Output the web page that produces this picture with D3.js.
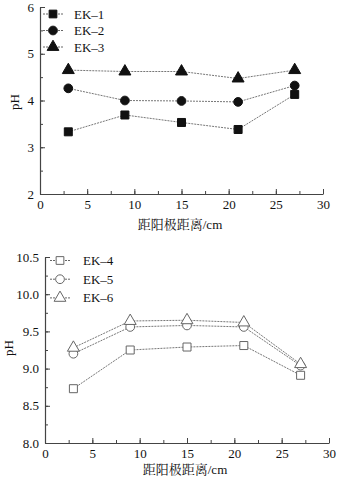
<!DOCTYPE html>
<html><head><meta charset="utf-8">
<script src="https://cdn.jsdelivr.net/npm/d3@7"></script>
<style>
html,body{margin:0;padding:0;background:#fff;}
svg text{font-family:"Liberation Serif","Noto Serif CJK SC","Noto Sans CJK SC",serif !important;}
</style></head>
<body>
<svg id="c" width="338" height="482"></svg>
<script>
const distances = [3, 9, 15, 21, 27];
const seriesTopNames = ["EK\u20131", "EK\u20132", "EK\u20133"];
const ek1 = [3.33, 3.69, 3.53, 3.38, 4.13];
const ek2 = [4.26, 4.00, 3.99, 3.97, 4.32];
const ek3 = [4.65, 4.62, 4.62, 4.47, 4.65];
const seriesBottomNames = ["EK\u20134", "EK\u20135", "EK\u20136"];
const ek4 = [8.73, 9.25, 9.29, 9.31, 8.91];
const ek5 = [9.20, 9.56, 9.58, 9.56, 9.04];
const ek6 = [9.28, 9.64, 9.65, 9.62, 9.06];
const xTicks = [0, 5, 10, 15, 20, 25, 30];
const yTicksTop = [2, 3, 4, 5, 6];
const yTicksBottom = [8.0, 8.5, 9.0, 9.5, 10.0, 10.5];
const xTitle = "距阳极距离/cm";
const yTitle = "pH";

const svg = d3.select("#c");
const sym = [d3.symbolSquare, d3.symbolCircle, d3.symbolTriangle];

function panel(cfg){
  const g = svg.append("g");
  const x = d3.scaleLinear().domain([0,30]).range(cfg.xr);
  const y = d3.scaleLinear().domain(cfg.yd).range(cfg.yr);
  const axisColor = "#444";
  const xMinor = d3.range(0, 30.01, 2.5);
  const yMinor = d3.range(cfg.yd[0], cfg.yd[1]+1e-6, cfg.yMinorStep);
  const xa = g.append("g").attr("transform",`translate(0,${cfg.yr[0]})`)
    .call(d3.axisBottom(x).tickValues(xMinor).tickSize(-3).tickFormat(""));
  xa.select(".domain").remove();
  const ya = g.append("g").attr("transform",`translate(${cfg.xr[0]},0)`)
    .call(d3.axisLeft(y).tickValues(yMinor).tickSize(-3).tickFormat(""));
  ya.select(".domain").remove();
  g.append("g").attr("transform",`translate(0,${cfg.yr[0]})`)
    .call(d3.axisBottom(x).tickValues(xTicks).tickSizeInner(-5).tickSizeOuter(0).tickPadding(6).tickFormat(d3.format("d")));
  g.append("g").attr("transform",`translate(${cfg.xr[0]},0)`)
    .call(d3.axisLeft(y).tickValues(cfg.yTicks).tickSizeInner(-5).tickSizeOuter(0).tickPadding(6).tickFormat(cfg.yFmt));
  g.selectAll(".tick line").attr("stroke",axisColor);
  g.selectAll(".domain").attr("stroke",axisColor).attr("stroke-width",1.2);
  g.selectAll(".tick text").attr("font-size",13).attr("fill","#111");
  g.append("text").attr("x",cfg.xtPos[0]).attr("y",cfg.xtPos[1]).attr("text-anchor","middle")
    .attr("font-size",13).attr("fill","#111").text(xTitle);
  g.append("text").attr("transform",`translate(${cfg.ytPos[0]},${cfg.ytPos[1]}) rotate(-90)`)
    .attr("text-anchor","middle").attr("font-size",13).attr("fill","#111").text(yTitle);
  const line = d3.line().x((d,i)=>x(distances[i])).y(d=>y(d));
  cfg.series.forEach((s,k)=>{
    g.append("path").datum(s).attr("d",line).attr("fill","none")
      .attr("stroke","#777").attr("stroke-width",1).attr("stroke-dasharray","2,1");
  });
  cfg.series.forEach((s,k)=>{
    const size = k===0 ? 64 : (k===1 ? 60 : 62);
    g.selectAll(null).data(s).enter().append("path")
      .attr("transform",(d,i)=>`translate(${x(distances[i])},${y(d)})`)
      .attr("d",d3.symbol().type(sym[k]).size(size))
      .attr("fill",cfg.filled?"#111":"#fff")
      .attr("stroke",cfg.filled?"#111":"#666").attr("stroke-width",1);
  });
  cfg.names.forEach((n,k)=>{
    const ly = cfg.leg.y0 + k*cfg.leg.dy;
    g.append("line").attr("x1",cfg.leg.x).attr("x2",cfg.leg.x+20).attr("y1",ly).attr("y2",ly)
      .attr("stroke","#666").attr("stroke-width",1).attr("stroke-dasharray","2,1");
    g.append("path").attr("transform",`translate(${cfg.leg.x+10},${ly})`)
      .attr("d",d3.symbol().type(sym[k]).size(60))
      .attr("fill",cfg.filled?"#111":"#fff").attr("stroke",cfg.filled?"#111":"#666");
    g.append("text").attr("x",cfg.leg.tx).attr("y",ly+4.5).attr("font-size",13)
      .attr("fill","#111").text(n);
  });
}

panel({xr:[40,323], yd:[2,6], yr:[194,7], yMinorStep:0.5, yTicks:yTicksTop, yFmt:d3.format("d"),
  xtPos:[180,229], ytPos:[19,102], series:[ek1,ek2,ek3], names:seriesTopNames, filled:true,
  leg:{x:43,y0:14,dy:16.5,tx:74}});
panel({xr:[45,329], yd:[8,10.5], yr:[443,257], yMinorStep:0.25, yTicks:yTicksBottom, yFmt:d3.format(".1f"),
  xtPos:[185,474], ytPos:[13,348], series:[ek4,ek5,ek6], names:seriesBottomNames, filled:false,
  leg:{x:50,y0:260.5,dy:18.7,tx:83}});
</script>
</body></html>
